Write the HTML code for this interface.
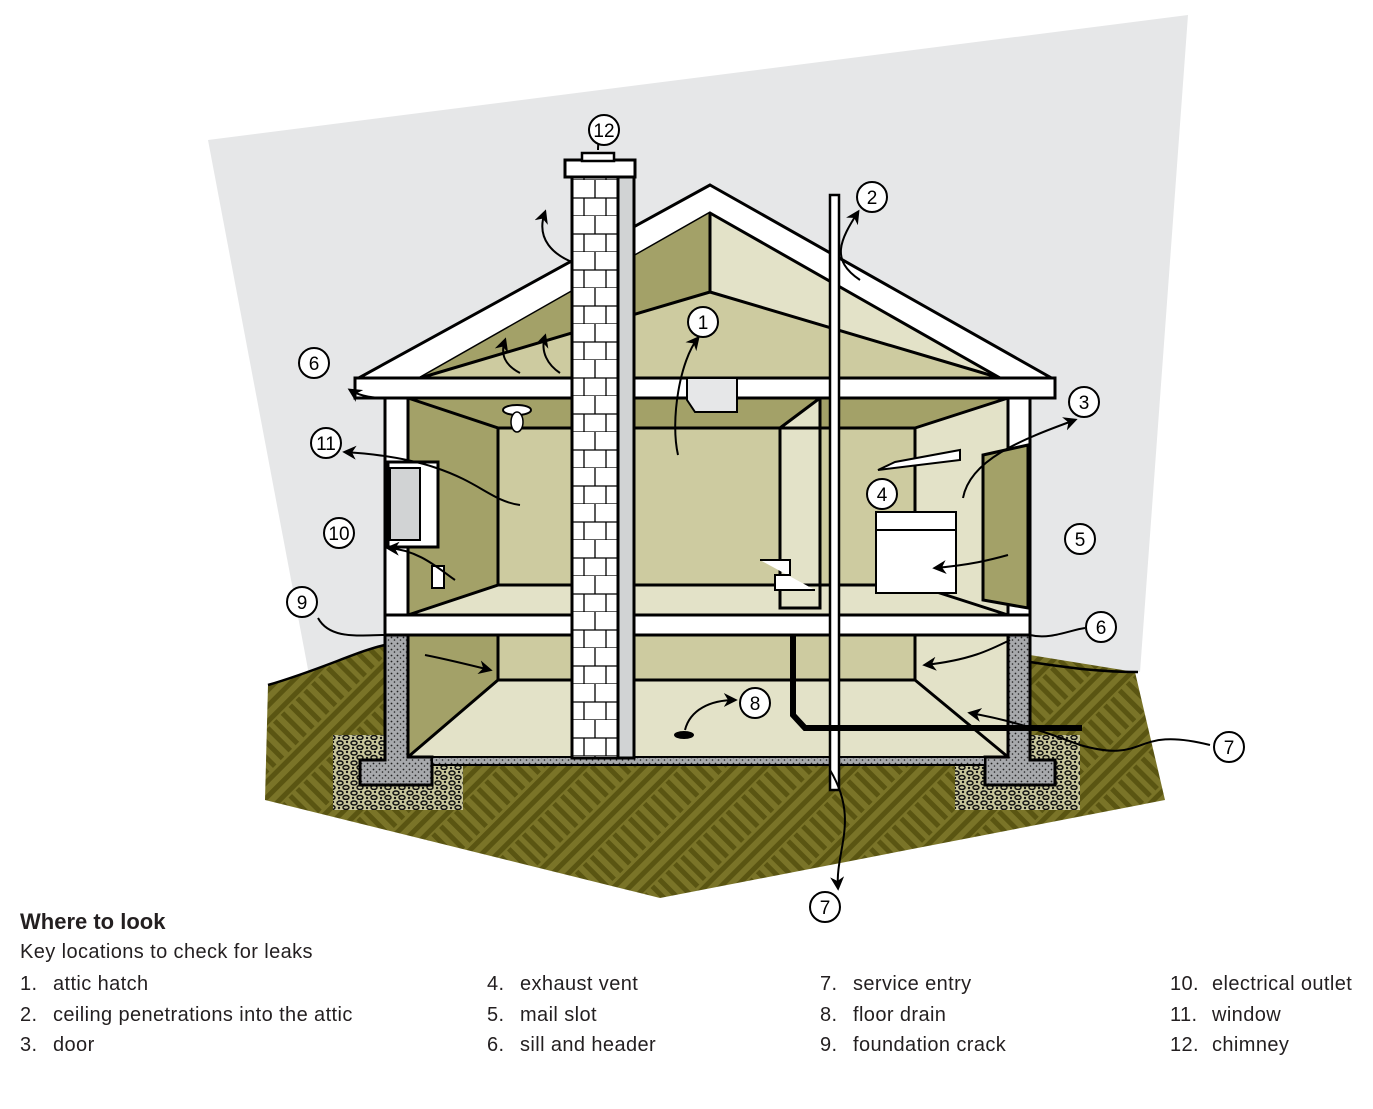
<!DOCTYPE html>
<html><head><meta charset="utf-8"><style>
body{margin:0;background:#fff;width:1373px;height:1109px;overflow:hidden;font-family:"Liberation Sans",sans-serif}
.lg{position:absolute;font-size:20px;letter-spacing:0.4px;color:#231f20;white-space:nowrap}
</style></head><body>
<svg width="1373" height="1109" style="position:absolute;left:0;top:0">
<defs>
<pattern id="gr" width="64" height="64" patternUnits="userSpaceOnUse" patternTransform="rotate(45)">
<rect width="64" height="64" fill="#7a7428"/>
<rect x="0" y="3" width="32" height="5" fill="#5a5512"/><rect x="0" y="14" width="32" height="5" fill="#5a5512"/><rect x="0" y="25" width="32" height="5" fill="#5a5512"/>
<rect x="35" y="32" width="5" height="32" fill="#5a5512"/><rect x="46" y="32" width="5" height="32" fill="#5a5512"/><rect x="57" y="32" width="5" height="32" fill="#5a5512"/>
<rect x="35" y="0" width="5" height="32" fill="#5a5512"/><rect x="46" y="0" width="5" height="32" fill="#5a5512"/><rect x="57" y="0" width="5" height="32" fill="#5a5512"/>
<rect x="0" y="35" width="32" height="5" fill="#5a5512"/><rect x="0" y="46" width="32" height="5" fill="#5a5512"/><rect x="0" y="57" width="32" height="5" fill="#5a5512"/>
</pattern>
<pattern id="st" width="6" height="6" patternUnits="userSpaceOnUse"><rect width="6" height="6" fill="#a7a9ac"/><circle cx="1.5" cy="1.5" r="0.9" fill="#222"/><circle cx="4.5" cy="4" r="0.8" fill="#222"/></pattern>
<pattern id="gv" width="14" height="10" patternUnits="userSpaceOnUse"><rect width="14" height="10" fill="#c9c79c"/><ellipse cx="4" cy="3" rx="3" ry="2" fill="none" stroke="#111" stroke-width="1.5"/><ellipse cx="10" cy="7.5" rx="3" ry="2" fill="none" stroke="#111" stroke-width="1.5"/><circle cx="11" cy="2" r="1.2" fill="#111"/><circle cx="3" cy="8" r="1.2" fill="#111"/></pattern>
<pattern id="br" width="46" height="36" patternUnits="userSpaceOnUse" x="572" y="0"><rect width="46" height="36" fill="#fff"/><path d="M0 18H46M0 36H46M23 0V18M34 18V36M12 18V36" stroke="#000" stroke-width="1.3"/></pattern>
<marker id="ah" viewBox="0 0 10 10" refX="8" refY="5" markerWidth="7" markerHeight="7" orient="auto-start-reverse"><path d="M0 0L10 5L0 10L3 5Z" fill="#000"/></marker>
</defs>
<polygon points="208,140 1188,15 1140,672 310,680" fill="#e6e7e8"/>
<polygon points="268,685 385,645 1030,655 1135,672 1165,800 660,898 265,800" fill="url(#gr)"/>
<path d="M268,685 C320,670 360,650 385,645" fill="none" stroke="#000" stroke-width="2.5"/>
<path d="M1030,662 C1070,668 1100,672 1138,672" fill="none" stroke="#000" stroke-width="2.5"/>
<rect x="333" y="735" width="130" height="75" fill="url(#gv)"/>
<rect x="955" y="735" width="125" height="75" fill="url(#gv)"/>
<rect x="408" y="635" width="600" height="122" fill="#e3e2c8"/>
<polygon points="408,635 498,635 498,680 408,757" fill="#a3a168"/>
<polygon points="498,635 915,635 915,680 498,680" fill="#cdcba0"/>
<polygon points="915,635 1008,635 1008,757 915,680" fill="#e3e2c8"/>
<path d="M498,635V680H915V635M498,680L408,757M915,680L1008,757" stroke="#000" stroke-width="3" fill="none"/>
<path d="M385,635H408V757H432V785H360V760H385Z" fill="url(#st)" stroke="#000" stroke-width="3"/>
<path d="M1008,635H1030V760H1055V785H985V757H1008Z" fill="url(#st)" stroke="#000" stroke-width="3"/>
<rect x="432" y="757" width="553" height="8" fill="url(#st)" stroke="#000" stroke-width="2"/>
<rect x="408" y="398" width="600" height="217" fill="#e3e2c8"/>
<polygon points="408,398 498,428 498,585 408,615" fill="#a3a168"/>
<polygon points="498,428 915,428 915,585 498,585" fill="#cdcba0"/>
<polygon points="408,398 1008,398 915,428 498,428" fill="#a3a168"/>
<polygon points="780,428 820,398 820,608 780,608" fill="#e3e2c8" stroke="#000" stroke-width="3"/>
<polygon points="915,428 1008,398 1008,615 915,585" fill="#e3e2c8"/>
<path d="M408,398L498,428V585L408,615M498,428H915V585H498M915,428L1008,398M915,585L1008,615M498,585L408,615" stroke="#000" stroke-width="3" fill="none"/>
<rect x="385" y="398" width="23" height="217" fill="#fff" stroke="#000" stroke-width="3"/>
<rect x="1008" y="398" width="22" height="217" fill="#fff" stroke="#000" stroke-width="3"/>
<rect x="385" y="615" width="645" height="20" fill="#fff" stroke="#000" stroke-width="3"/>
<polygon points="983,455 1028,445 1028,608 983,600" fill="#a3a168" stroke="#000" stroke-width="3"/>
<rect x="388" y="462" width="50" height="85" fill="#fff" stroke="#000" stroke-width="3"/>
<rect x="390" y="468" width="30" height="72" fill="#d1d3d4" stroke="#000" stroke-width="2"/>
<rect x="432" y="566" width="12" height="22" fill="#fff" stroke="#000" stroke-width="2"/>
<polygon points="710,185 1055,380 1055,398 355,398 355,380" fill="#fff" stroke="#000" stroke-width="3"/>
<polygon points="710,213 1000,378 420,378" fill="#e3e2c8" stroke="#000" stroke-width="3"/>
<polygon points="710,213 710,292 420,378" fill="#a3a168"/>
<polygon points="710,292 1000,378 420,378" fill="#cdcba0" stroke="#000" stroke-width="3"/>
<path d="M710,213V292" stroke="#000" stroke-width="3"/>
<rect x="355" y="378" width="700" height="20" fill="#fff" stroke="#000" stroke-width="3"/>
<polygon points="687,378 737,378 737,412 695,412 687,400" fill="#e6e7e8" stroke="#000" stroke-width="2"/>
<rect x="618" y="175" width="16" height="583" fill="#d1d3d4" stroke="#000" stroke-width="3"/>
<rect x="572" y="175" width="46" height="583" fill="url(#br)" stroke="#000" stroke-width="3"/>
<rect x="565" y="160" width="70" height="17" fill="#fff" stroke="#000" stroke-width="3"/>
<rect x="582" y="153" width="32" height="8" fill="#fff" stroke="#000" stroke-width="2.5"/>
<rect x="830" y="195" width="9" height="595" fill="#fff" stroke="#000" stroke-width="2.5"/>
<path d="M793,635V715L805,728H1082" stroke="#000" stroke-width="6" fill="none"/>
<rect x="876" y="530" width="80" height="63" fill="#fff" stroke="#000" stroke-width="2"/>
<rect x="876" y="512" width="80" height="18" fill="#fff" stroke="#000" stroke-width="2"/>
<polygon points="878,470 960,460 960,450 895,462" fill="#fff" stroke="#000" stroke-width="2"/>
<ellipse cx="684" cy="735" rx="10" ry="4" fill="#000"/>
<path d="M760,560H790V575H775V590H815" stroke="#000" stroke-width="2" fill="#fff"/>
<ellipse cx="517" cy="410" rx="14" ry="5" fill="#fff" stroke="#000" stroke-width="2"/>
<ellipse cx="517" cy="422" rx="6" ry="10" fill="#fff" stroke="#000" stroke-width="1.5"/>
<g fill="none" stroke="#000" stroke-width="2" marker-end="url(#ah)">
<path d="M598,150 C598,140 600,130 602,118"/>
<path d="M860,280 C830,260 840,240 858,212"/>
<path d="M678,455 C670,420 680,360 698,338"/>
<path d="M572,262 C555,255 535,240 545,212"/>
<path d="M520,373 C505,365 500,355 505,340"/>
<path d="M560,373 C548,365 540,352 545,336"/>
<path d="M385,398 C370,398 358,395 350,390"/>
<path d="M520,505 C480,500 470,460 345,452"/>
<path d="M455,580 C440,570 420,550 388,548"/>
<path d="M963,498 C970,460 1020,440 1075,420"/>
<path d="M1008,555 C990,560 970,565 935,568"/>
<path d="M1010,640 C990,650 970,660 925,665"/>
<path d="M425,655 C450,660 470,665 490,670"/>
<path d="M685,730 C690,710 710,700 735,700"/>
<path d="M1210,745 C1130,725 1150,765 1080,745 C1040,730 1010,720 970,713"/>
<path d="M830,770 C860,820 835,850 838,888"/>
</g>
<path d="M385,635 C360,635 330,640 318,618" fill="none" stroke="#000" stroke-width="2"/>
<path d="M1030,635 C1050,640 1070,630 1085,628" fill="none" stroke="#000" stroke-width="2"/>
<g fill="#fff" stroke="#000" stroke-width="2">
<circle cx="604" cy="130" r="15"/><circle cx="872" cy="197" r="15"/><circle cx="703" cy="322" r="15"/>
<circle cx="314" cy="363" r="15"/><circle cx="1084" cy="402" r="15"/><circle cx="326" cy="443" r="15"/>
<circle cx="882" cy="494" r="15"/><circle cx="339" cy="533" r="15"/><circle cx="1080" cy="539" r="15"/>
<circle cx="302" cy="602" r="15"/><circle cx="1101" cy="627" r="15"/><circle cx="755" cy="703" r="15"/>
<circle cx="1229" cy="747" r="15"/><circle cx="825" cy="907" r="15"/>
</g>
<g font-family="Liberation Sans,sans-serif" font-size="19" text-anchor="middle" fill="#000">
<text x="604" y="137">12</text><text x="872" y="204">2</text><text x="703" y="329">1</text>
<text x="314" y="370">6</text><text x="1084" y="409">3</text><text x="326" y="450">11</text>
<text x="882" y="501">4</text><text x="339" y="540">10</text><text x="1080" y="546">5</text>
<text x="302" y="609">9</text><text x="1101" y="634">6</text><text x="755" y="710">8</text>
<text x="1229" y="754">7</text><text x="825" y="914">7</text>
</g>
</svg>
<div class="lg" style="left:20px;top:909px;font-weight:bold;font-size:22px;letter-spacing:0">Where to look</div>
<div class="lg" style="left:20px;top:941px">Key locations to check for leaks</div>
<div class="lg" style="left:20px;top:973px">1.</div><div class="lg" style="left:53px;top:973px">attic hatch</div>
<div class="lg" style="left:20px;top:1004px">2.</div><div class="lg" style="left:53px;top:1004px">ceiling penetrations into the attic</div>
<div class="lg" style="left:20px;top:1034px">3.</div><div class="lg" style="left:53px;top:1034px">door</div>
<div class="lg" style="left:487px;top:973px">4.</div><div class="lg" style="left:520px;top:973px">exhaust vent</div>
<div class="lg" style="left:487px;top:1004px">5.</div><div class="lg" style="left:520px;top:1004px">mail slot</div>
<div class="lg" style="left:487px;top:1034px">6.</div><div class="lg" style="left:520px;top:1034px">sill and header</div>
<div class="lg" style="left:820px;top:973px">7.</div><div class="lg" style="left:853px;top:973px">service entry</div>
<div class="lg" style="left:820px;top:1004px">8.</div><div class="lg" style="left:853px;top:1004px">floor drain</div>
<div class="lg" style="left:820px;top:1034px">9.</div><div class="lg" style="left:853px;top:1034px">foundation crack</div>
<div class="lg" style="left:1170px;top:973px">10.</div><div class="lg" style="left:1212px;top:973px">electrical outlet</div>
<div class="lg" style="left:1170px;top:1004px">11.</div><div class="lg" style="left:1212px;top:1004px">window</div>
<div class="lg" style="left:1170px;top:1034px">12.</div><div class="lg" style="left:1212px;top:1034px">chimney</div>
</body></html>
